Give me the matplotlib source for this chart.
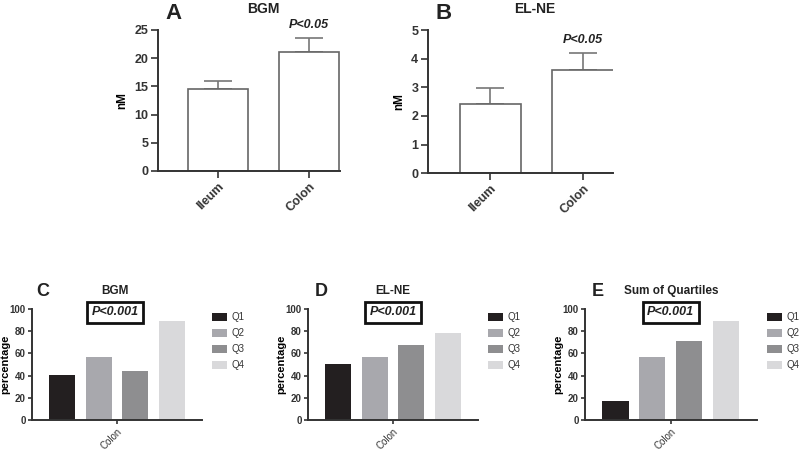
import numpy as np
import matplotlib.pyplot as plt

plt.rcParams['font.family'] = ['Liberation Sans', 'DejaVu Sans']

# top panels: concentration (nM), mean and upper error
sites = ["Ileum", "Colon"]
bgm_mean = [14.5, 21.1]
bgm_err = [1.5, 2.5]
elne_mean = [2.42, 3.62]
elne_err = [0.56, 0.58]

# bottom panels: percentage per quartile in colon
quartiles = ["Q1", "Q2", "Q3", "Q4"]
q_bgm = [40.5, 56.5, 44.5, 89.5]
q_elne = [50.5, 56.5, 67.5, 78.5]
q_sum = [17.5, 56.5, 71.5, 89.5]
q_colors = ["#231f20", "#a8a8ad", "#8e8e90", "#d9d9db"]

fig = plt.figure(figsize=(8, 4.51), dpi=100)
axis_col = "#333333"


def style(ax, fs, tl, pad=2):
    for s in ["top", "right"]:
        ax.spines[s].set_visible(False)
    for s in ["left", "bottom"]:
        ax.spines[s].set_color(axis_col)
        ax.spines[s].set_linewidth(1.4)
    ax.tick_params(colors=axis_col, width=1.2, length=tl, labelsize=fs, pad=pad)
    for lab in ax.get_yticklabels():
        lab.set_fontweight("bold")


def top_panel(rect, means, errs, ymax, step, letter, title, xl):
    ax = fig.add_axes(rect)
    x = np.arange(len(sites))
    ax.bar(x, means, width=0.66, color="white", edgecolor="#666666", linewidth=1.2, zorder=2)
    ax.errorbar(x, means, yerr=[np.zeros(len(means)), errs], fmt="none",
                ecolor="#777777", elinewidth=1.2, capsize=10, capthick=1.2, zorder=1)
    ax.set_xlim(*xl)
    ax.set_ylim(0, ymax)
    ax.set_yticks(np.arange(0, ymax + 0.01, step))
    ax.set_xticks(x)
    ax.set_xticklabels(sites, rotation=45, ha="right", rotation_mode="anchor",
                       fontweight="bold", fontsize=8.5)
    style(ax, 9, 5)
    ax.set_ylabel("nM", fontweight="bold", fontsize=8.5, labelpad=4)
    ax.text(1, means[1] + errs[1] + ymax * 0.05, "P<0.05", ha="center", va="bottom",
            fontsize=9, fontweight="bold", fontstyle="italic", color="#222222")
    ax.text(0.58, 1.15, title, transform=ax.transAxes, ha="center", va="center",
            fontsize=10, fontweight="bold", color="#222222")
    ax.text(0.085, 1.12, letter, transform=ax.transAxes, ha="center", va="center",
            fontsize=16, fontweight="bold", color="#222222")
    return ax


def bottom_panel(rect, vals, letter, title, lx, tx):
    ax = fig.add_axes(rect)
    x = np.arange(len(quartiles))
    bars = ax.bar(x, vals, width=0.71, color=q_colors, zorder=2)
    ax.set_xlim(-0.83, 3.83)
    ax.set_ylim(0, 100)
    ax.set_yticks(np.arange(0, 101, 20))
    ax.set_xticks([1.5])
    ax.set_xticklabels(["Colon"], rotation=45, ha="right", rotation_mode="anchor",
                       fontsize=6)
    style(ax, 7, 3, pad=1.5)
    ax.set_ylabel("percentage", fontweight="bold", fontsize=8)
    ax.yaxis.set_label_coords(-0.125, 0.5)
    ax.text(tx, 1.16, title, transform=ax.transAxes, ha="center", va="center",
            fontsize=8.5, fontweight="bold", color="#222222")
    ax.text(lx, 1.16, letter, transform=ax.transAxes, ha="center", va="center",
            fontsize=13, fontweight="bold", color="#222222")
    ax.text(tx, 0.97, "P<0.001", transform=ax.transAxes, ha="center", va="center",
            fontsize=9, fontweight="bold", fontstyle="italic", color="#222222",
            bbox=dict(boxstyle="square,pad=0.35", facecolor="white",
                      edgecolor="#111111", linewidth=2), zorder=5)
    ax.legend(bars, quartiles, loc="upper left", bbox_to_anchor=(1.06, 0.97),
              frameon=False, fontsize=7, handlelength=1.5, handleheight=1.0,
              handletextpad=0.5, labelspacing=0.62, labelcolor="#333333",
              borderaxespad=0, borderpad=0)
    return ax


top_panel([0.1975, 0.621, 0.2275, 0.3126], bgm_mean, bgm_err, 25, 5, "A", "BGM", (-0.66, 1.34))
top_panel([0.535, 0.616, 0.231, 0.317], elne_mean, elne_err, 5, 1, "B", "EL-NE", (-0.67, 1.32))
bottom_panel([0.04, 0.068, 0.2125, 0.247], q_bgm, "C", "BGM", 0.065, 0.49)
bottom_panel([0.385, 0.068, 0.2125, 0.247], q_elne, "D", "EL-NE", 0.08, 0.5)
bottom_panel([0.731, 0.068, 0.215, 0.247], q_sum, "E", "Sum of Quartiles", 0.075, 0.5)

fig.savefig("out.png", dpi=100)
